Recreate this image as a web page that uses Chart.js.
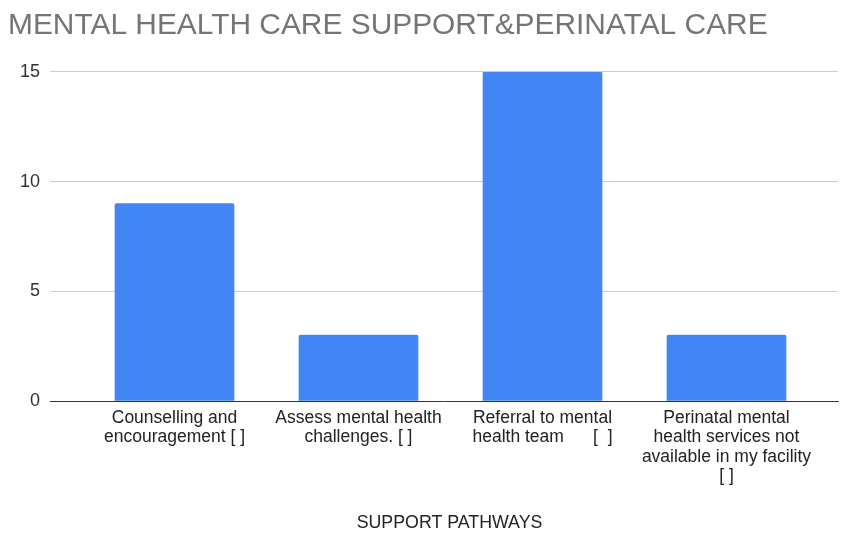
<!DOCTYPE html>
<html>
<head>
<meta charset="utf-8">
<script src="https://cdn.jsdelivr.net/npm/chart.js@4/dist/chart.umd.min.js"></script>
<style>
  html, body { margin: 0; padding: 0; background: #ffffff; }
  #wrap { width: 843px; height: 534px; }
</style>
</head>
<body>
<div id="wrap"><canvas id="chart" width="843" height="534"></canvas></div>
<script>
// Support pathways offered for perinatal mental health care
const categories = [
  ['Counselling and', 'encouragement [ ]'],
  ['Assess mental health', 'challenges. [ ]'],
  ['Referral to mental', 'health team      [  ]'],
  ['Perinatal mental', 'health services not', 'available in my facility', '[ ]']
];
const responses = [9, 3, 15, 3];
const yTicks = [0, 5, 10, 15];

const chartTitle = 'MENTAL HEALTH CARE SUPPORT&PERINATAL CARE';
const xAxisTitle = 'SUPPORT PATHWAYS';

const points = responses.map((v, i) => ({ x: i, y: v }));
const FONT = '"Liberation Sans", Arial, sans-serif';

// Axis title centred under the category labels, a little right of the plot centre
const axisTitlePlugin = {
  id: 'axisTitle',
  afterDraw(chart) {
    const { ctx, scales: { x } } = chart;
    ctx.save();
    ctx.font = '17.8px ' + FONT;
    ctx.fillStyle = '#222222';
    ctx.textAlign = 'center';
    ctx.textBaseline = 'alphabetic';
    ctx.fillText(xAxisTitle, (x.left + x.right) / 2 + 5.5, x.bottom - 6);
    ctx.restore();
  }
};

new Chart(document.getElementById('chart'), {
  type: 'bar',
  data: {
    datasets: [{
      data: points,
      backgroundColor: '#4285f4',
      borderWidth: 0,
      borderRadius: 2,
      borderSkipped: 'bottom',
      barThickness: 119
    }]
  },
  plugins: [axisTitlePlugin],
  options: {
    responsive: false,
    animation: false,
    layout: { padding: { left: 8, right: 5, top: 0, bottom: 0 } },
    plugins: {
      legend: { display: false },
      tooltip: { enabled: false },
      title: {
        display: true,
        text: chartTitle,
        align: 'start',
        color: '#757575',
        font: { family: FONT, size: 29.9, weight: 'normal' },
        padding: { top: 8, bottom: 28 }
      }
    },
    scales: {
      x: {
        type: 'linear',
        offset: false,
        bounds: 'ticks',
        min: -0.6766,
        max: 3.606,
        afterBuildTicks: (scale) => { scale.ticks = categories.map((_, i) => ({ value: i })); },
        afterFit: (scale) => { scale.height = 133; },
        grid: { display: false, drawTicks: false, offset: false },
        border: { display: true, color: '#333333', width: 1 },
        ticks: {
          autoSkip: false,
          maxRotation: 0,
          padding: 8,
          color: '#222222',
          font: { family: FONT, size: 17.5, lineHeight: 1.09 },
          callback: (value) => categories[value]
        },
        title: { display: false }
      },
      y: {
        min: 0,
        max: 15,
        afterBuildTicks: (scale) => { scale.ticks = yTicks.map(v => ({ value: v })); },
        afterFit: (scale) => { scale.width = 42; },
        grid: {
          drawTicks: false,
          color: (ctx) => ctx.tick && ctx.tick.value === 0 ? 'rgba(0,0,0,0)' : '#cccccc',
          lineWidth: 1
        },
        border: { display: false },
        ticks: {
          padding: 10,
          color: '#333333',
          font: { family: FONT, size: 18 }
        }
      }
    }
  }
});
</script>
</body>
</html>
